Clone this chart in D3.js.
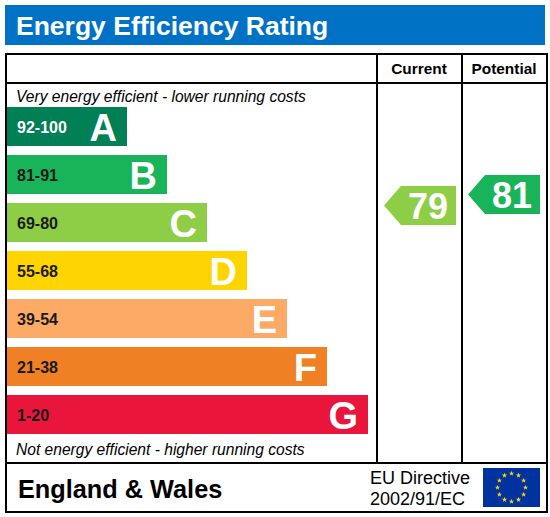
<!DOCTYPE html>
<html><head><meta charset="utf-8">
<script src="https://cdn.jsdelivr.net/npm/d3@7"></script>
<style>body{margin:0;background:#fff}</style>
</head><body>
<script>
var bands = ["A","B","C","D","E","F","G"];
var ranges = ["92-100","81-91","69-80","55-68","39-54","21-38","1-20"];
var colors = ["#008054","#19b459","#8dce46","#ffd500","#fcaa65","#ef8023","#e9153b"];
var barEnds = [127,167,207,247,287,327,368];
var current = 79, potential = 81;
var font = "Arial, 'Liberation Sans', sans-serif";

var svg = d3.select("body").append("svg").attr("width",550).attr("height",517);

svg.append("rect").attr("x",5).attr("y",5).attr("width",540).attr("height",40).attr("fill","#0072c6");
svg.append("text").attr("x",16).attr("y",35).attr("fill","#fff").attr("font-family",font)
  .attr("font-weight","bold").attr("font-size",26.5).text("Energy Efficiency Rating");

var g = svg.append("g").attr("stroke","#000").attr("stroke-width",2);
g.append("rect").attr("x",6).attr("y",54).attr("width",541).attr("height",458).attr("fill","none");
g.append("line").attr("x1",6).attr("x2",547).attr("y1",83).attr("y2",83);
g.append("line").attr("x1",6).attr("x2",547).attr("y1",463).attr("y2",463);
g.append("line").attr("x1",377).attr("x2",377).attr("y1",54).attr("y2",463);
g.append("line").attr("x1",462).attr("x2",462).attr("y1",54).attr("y2",463);

svg.append("text").attr("x",419).attr("y",74).attr("text-anchor","middle").attr("font-family",font)
  .attr("font-weight","bold").attr("font-size",15.4).text("Current");
svg.append("text").attr("x",504).attr("y",74).attr("text-anchor","middle").attr("font-family",font)
  .attr("font-weight","bold").attr("font-size",15.4).text("Potential");

svg.append("text").attr("x",16).attr("y",102).attr("font-family",font).attr("font-style","italic")
  .attr("font-size",15.6).text("Very energy efficient - lower running costs");
svg.append("text").attr("x",16).attr("y",455).attr("font-family",font).attr("font-style","italic")
  .attr("font-size",15.6).text("Not energy efficient - higher running costs");

var y = d3.scaleBand().domain(bands).range([107,107+7*48]);

var bar = svg.selectAll("g.band").data(bands).enter().append("g");
bar.append("rect").attr("x",7).attr("y",function(d){return y(d);})
  .attr("width",function(d,i){return barEnds[i]-7;}).attr("height",39)
  .attr("fill",function(d,i){return colors[i];});
bar.append("text").attr("x",17).attr("y",function(d){return y(d)+19.5+6;})
  .attr("font-family",font).attr("font-weight","bold").attr("font-size",16)
  .attr("fill",function(d,i){return i==0?"#fff":"#1a1a1a";})
  .text(function(d,i){return ranges[i];});
bar.append("text").attr("x",function(d,i){return barEnds[i]-10;}).attr("y",function(d){return y(d)+19.5+14;})
  .attr("text-anchor","end").attr("font-family",font).attr("font-weight","bold").attr("font-size",38)
  .attr("fill","#fff").text(function(d){return d;});

function bandOf(v){ return ranges.findIndex(function(r){var p=r.split("-");return v>=+p[0]&&v<=+p[1];}); }
var vy = d3.scaleLinear().domain([79,81]).range([205.5,194.5]);
function arrow(v,x0,x1){
  var i = bandOf(v), c = vy(v), h = 39, t = 17;
  var pts = [[x0,c],[x0+t,c-h/2],[x1,c-h/2],[x1,c+h/2],[x0+t,c+h/2]];
  svg.append("path").attr("d",d3.line()(pts)+"Z").attr("fill",colors[i]);
  svg.append("text").attr("x",(x0+x1)/2+8).attr("y",c+13).attr("text-anchor","middle")
    .attr("font-family",font).attr("font-weight","bold").attr("font-size",36).attr("fill","#fff").text(v);
}
arrow(current,384,456);
arrow(potential,468,540);

svg.append("text").attr("x",18).attr("y",498).attr("font-family",font).attr("font-weight","bold")
  .attr("font-size",25.3).text("England & Wales");
svg.append("text").attr("x",370).attr("y",484).attr("font-family",font).attr("font-size",18).text("EU Directive");
svg.append("text").attr("x",370).attr("y",505).attr("font-family",font).attr("font-size",18).text("2002/91/EC");
svg.append("rect").attr("x",483).attr("y",468).attr("width",57).attr("height",39).attr("fill","#0033a0");
var stars = d3.range(12);
svg.selectAll("path.star").data(stars).enter().append("path")
  .attr("d",d3.symbol().type(d3.symbolStar).size(9))
  .attr("transform",function(d){var a=d*Math.PI/6;return "translate("+(511.5+14*Math.sin(a))+","+(487.5-14*Math.cos(a))+")";})
  .attr("fill","#ffdd00");
</script>
</body></html>
